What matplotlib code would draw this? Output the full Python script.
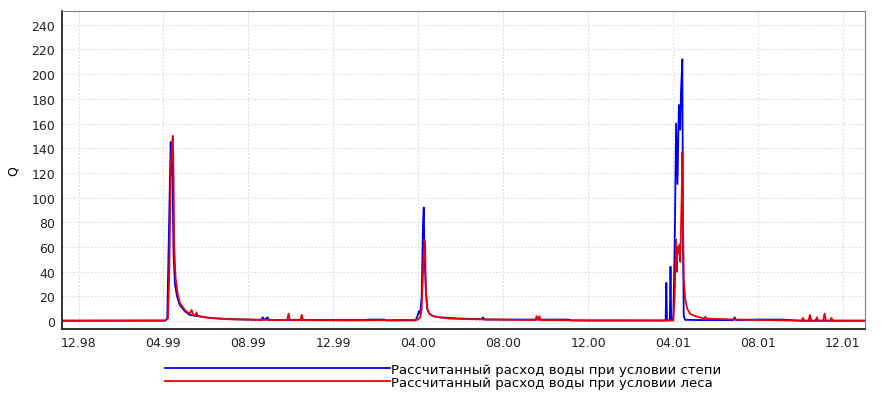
import pandas as pd
import matplotlib.pyplot as plt
import matplotlib.dates as mdates

# Расход воды, степь (синяя линия)
steppe_dates = [
    "1998-11-01", "1999-04-04", "1999-04-07", "1999-04-09", "1999-04-11", "1999-04-12",
    "1999-04-13", "1999-04-14", "1999-04-15", "1999-04-16", "1999-04-18", "1999-04-21",
    "1999-04-25", "1999-05-02", "1999-05-09", "1999-06-07", "1999-07-05", "1999-08-20",
    "1999-08-22", "1999-08-24", "1999-08-29", "1999-08-31", "1999-10-01", "2000-01-18",
    "2000-01-20", "2000-02-13", "2000-02-15", "2000-03-28", "2000-03-31", "2000-04-02",
    "2000-04-04", "2000-04-06", "2000-04-08", "2000-04-09", "2000-04-10", "2000-04-11",
    "2000-04-12", "2000-04-14", "2000-04-17", "2000-04-22", "2000-05-02", "2000-06-01",
    "2000-07-01", "2000-07-03", "2000-07-05", "2000-10-02", "2000-11-04", "2000-11-06",
    "2001-03-22", "2001-03-23", "2001-03-24", "2001-03-28", "2001-03-29", "2001-03-30",
    "2001-04-02", "2001-04-04", "2001-04-06", "2001-04-08", "2001-04-10", "2001-04-12",
    "2001-04-13", "2001-04-15", "2001-04-16", "2001-04-17", "2001-04-19", "2001-05-10",
    "2001-06-27", "2001-06-29", "2001-07-01", "2001-08-01", "2001-09-04", "2001-10-01",
    "2002-01-31",
]
steppe_q = [
    0.3, 0.3, 2, 60, 120, 145,
    118, 140, 100, 55, 30, 20,
    13, 8, 5, 2.5, 1.5, 1,
    3, 1, 3, 1, 0.8, 0.8,
    1.2, 1.2, 0.5, 0.5, 4, 8,
    6, 20, 80, 92, 55, 40,
    25, 10, 6, 4, 3, 2,
    1.5, 3, 1.2, 1.2, 1.2, 0.5,
    0.4, 31, 0.5, 0.5, 44, 1,
    2, 60, 160, 111, 175, 155,
    185, 212, 60, 4, 1, 0.8,
    0.8, 3, 0.8, 1.2, 1.2, 0.3,
    0.3,
]

# Расход воды, лес (красная линия)
forest_dates = [
    "1998-11-01", "1999-04-04", "1999-04-08", "1999-04-10", "1999-04-12", "1999-04-14",
    "1999-04-15", "1999-04-16", "1999-04-17", "1999-04-19", "1999-04-22", "1999-04-25",
    "1999-05-02", "1999-05-09", "1999-05-12", "1999-05-14", "1999-05-17", "1999-05-19",
    "1999-05-21", "1999-06-07", "1999-07-05", "1999-08-18", "1999-09-26", "1999-09-28",
    "1999-09-30", "1999-10-15", "1999-10-17", "1999-10-19", "2000-01-01", "2000-03-31",
    "2000-04-04", "2000-04-06", "2000-04-08", "2000-04-10", "2000-04-11", "2000-04-12",
    "2000-04-14", "2000-04-17", "2000-04-22", "2000-05-02", "2000-05-16", "2000-06-15",
    "2000-09-16", "2000-09-18", "2000-09-20", "2000-09-22", "2000-09-24", "2000-12-01",
    "2001-04-02", "2001-04-04", "2001-04-05", "2001-04-06", "2001-04-07", "2001-04-08",
    "2001-04-09", "2001-04-11", "2001-04-12", "2001-04-14", "2001-04-15", "2001-04-16",
    "2001-04-17", "2001-04-19", "2001-04-22", "2001-04-26", "2001-05-03", "2001-05-10",
    "2001-05-16", "2001-05-18", "2001-05-20", "2001-07-01", "2001-10-03", "2001-10-05",
    "2001-10-07", "2001-10-13", "2001-10-15", "2001-10-17", "2001-10-23", "2001-10-25",
    "2001-10-27", "2001-11-03", "2001-11-05", "2001-11-07", "2001-11-13", "2001-11-15",
    "2001-11-17", "2002-01-31",
]
forest_q = [
    0.3, 0.5, 2, 40, 120, 145,
    150, 120, 60, 35, 22, 15,
    9, 6, 9, 5, 4, 7,
    4, 2.5, 1.5, 1, 0.8, 6,
    0.8, 0.7, 5, 0.7, 0.5, 1,
    3, 10, 40, 66, 60, 25,
    10, 6, 4, 3, 2, 1.5,
    0.8, 4, 0.8, 4, 0.8, 0.5,
    0.5, 20, 45, 66, 40, 60,
    55, 62, 48, 100, 137, 80,
    35, 18, 10, 6, 4, 3,
    2, 3.5, 2, 1.2, 0.3, 2.5,
    0.3, 0.3, 5, 0.3, 0.3, 3,
    0.3, 0.3, 6, 0.3, 0.3, 2.5,
    0.3, 0.3,
]

tick_dates = ["1998-12-01", "1999-04-01", "1999-08-01", "1999-12-01", "2000-04-01",
              "2000-08-01", "2000-12-01", "2001-04-01", "2001-08-01", "2001-12-01"]
y_ticks = list(range(0, 260, 20))

labels = ["Рассчитанный расход воды при условии степи",
          "Рассчитанный расход воды при условии леса"]

fig = plt.figure(figsize=(8.92, 4.06), dpi=100)
ax = fig.add_axes([0.0695, 0.187, 0.9002, 0.783])

p1, = ax.plot(pd.to_datetime(steppe_dates), steppe_q, color="#0000ee", lw=1.3, label=labels[0])
p2, = ax.plot(pd.to_datetime(forest_dates), forest_q, color="#ee0000", lw=1.3, label=labels[1])

ax.set_xlim(pd.Timestamp("1998-11-07"), pd.Timestamp("2002-01-02"))
ax.set_ylim(-6.5, 251)
ax.set_xticks(pd.to_datetime(tick_dates))
ax.xaxis.set_major_formatter(mdates.DateFormatter("%m.%y"))
ax.set_yticks(y_ticks)

ax.grid(True, color="#d4d4d4", linestyle=(0, (1.2, 2)), linewidth=0.8)
ax.tick_params(length=0, labelsize=9, colors="#222222", pad=5)
ax.set_ylabel("Q", fontsize=9, labelpad=8)

for side in ["top", "right"]:
    ax.spines[side].set_color("#808080")
for side in ["left", "bottom"]:
    ax.spines[side].set_color("#222222")
    ax.spines[side].set_linewidth(1.3)

fig.legend(handles=[p1, p2], loc="upper left", bbox_to_anchor=(0.178, 0.12),
           frameon=False, fontsize=9.5, handlelength=17, handletextpad=0.1,
           labelspacing=0.0, borderpad=0)

fig.savefig("out.png", dpi=100)
